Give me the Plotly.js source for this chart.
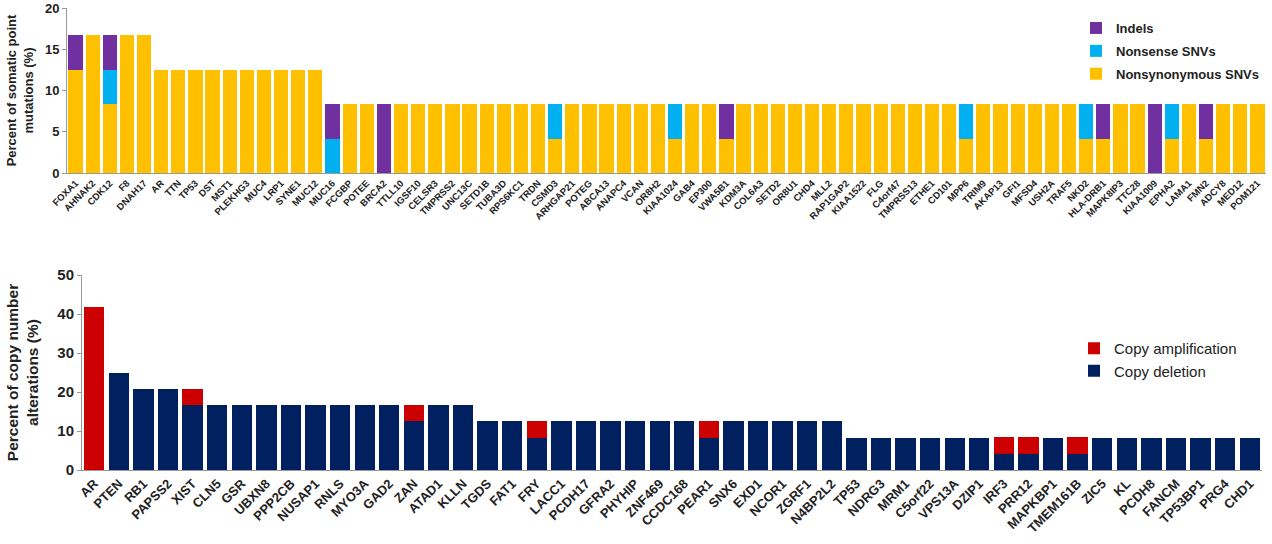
<!DOCTYPE html>
<html>
<head>
<meta charset="utf-8">
<script src="https://cdn.plot.ly/plotly-3.0.1.min.js"></script>
<style>html,body{margin:0;padding:0;background:#fff;}#chart{width:1272px;height:544px;}</style>
</head>
<body>
<div id="chart"></div>
<script>
const topGenes = ["FOXA1","AHNAK2","CDK12","F8","DNAH17","AR","TTN","TP53","DST","MST1","PLEKHG3","MUC4","LRP1","SYNE1","MUC12","MUC16","FCGBP","POTEE","BRCA2","TTLL10","IGSF10","CELSR3","TMPRSS2","UNC13C","SETD1B","TUBA3D","RPS6KC1","TRDN","CSMD3","ARHGAP21","POTEG","ABCA13","ANAPC4","VCAN","OR8H2","KIAA1024","GAB4","EP300","VWA5B1","KDM3A","COL6A3","SETD2","OR8U1","CHD4","MLL2","RAP1GAP2","KIAA1522","FLG","C4orf47","TMPRSS13","ETHE1","CD101","MPP6","TRIM9","AKAP13","GFI1","MFSD4","USH2A","TRAF5","NKD2","HLA-DRB1","MAPK8IP3","TTC28","KIAA1009","EPHA2","LAMA1","FMN2","ADCY8","MED12","POM121"];
const nonsynVals = [12.5,16.67,8.33,16.67,16.67,12.5,12.5,12.5,12.5,12.5,12.5,12.5,12.5,12.5,12.5,0,8.33,8.33,0,8.33,8.33,8.33,8.33,8.33,8.33,8.33,8.33,8.33,4.17,8.33,8.33,8.33,8.33,8.33,8.33,4.17,8.33,8.33,4.17,8.33,8.33,8.33,8.33,8.33,8.33,8.33,8.33,8.33,8.33,8.33,8.33,8.33,4.17,8.33,8.33,8.33,8.33,8.33,8.33,4.17,4.17,8.33,8.33,0,4.17,8.33,4.17,8.33,8.33,8.33];
const nonsenseVals = [0,0,4.17,0,0,0,0,0,0,0,0,0,0,0,0,4.17,0,0,0,0,0,0,0,0,0,0,0,0,4.17,0,0,0,0,0,0,4.17,0,0,0,0,0,0,0,0,0,0,0,0,0,0,0,0,4.17,0,0,0,0,0,0,4.17,0,0,0,0,4.17,0,0,0,0,0];
const indelVals = [4.17,0,4.17,0,0,0,0,0,0,0,0,0,0,0,0,4.17,0,0,8.33,0,0,0,0,0,0,0,0,0,0,0,0,0,0,0,0,0,0,0,4.17,0,0,0,0,0,0,0,0,0,0,0,0,0,0,0,0,0,0,0,0,0,4.17,0,0,8.33,0,0,4.17,0,0,0];

const cnaGenes = ["AR","PTEN","RB1","PAPSS2","XIST","CLN5","GSR","UBXN8","PPP2CB","NUSAP1","RNLS","MYO3A","GAD2","ZAN","ATAD1","KLLN","TGDS","FAT1","FRY","LACC1","PCDH17","GFRA2","PHYHIP","ZNF469","CCDC168","PEAR1","SNX6","EXD1","NCOR1","ZGRF1","N4BP2L2","TP53","NDRG3","MRM1","C5orf22","VPS13A","DZIP1","IRF3","PRR12","MAPKBP1","TMEM161B","ZIC5","KL","PCDH8","FANCM","TP53BP1","PRG4","CHD1"];
const delVals = [0,25,20.83,20.83,16.67,16.67,16.67,16.67,16.67,16.67,16.67,16.67,16.67,12.5,16.67,16.67,12.5,12.5,8.33,12.5,12.5,12.5,12.5,12.5,12.5,8.33,12.5,12.5,12.5,12.5,12.5,8.33,8.33,8.33,8.33,8.33,8.33,4.17,4.17,8.33,4.17,8.33,8.33,8.33,8.33,8.33,8.33,8.33];
const ampVals = [41.67,0,0,0,4.17,0,0,0,0,0,0,0,0,4.17,0,0,0,0,4.17,0,0,0,0,0,0,4.17,0,0,0,0,0,0,0,0,0,0,0,4.17,4.17,0,4.17,0,0,0,0,0,0,0];

const FONT = "Liberation Sans, Arial, sans-serif";
function bar(x, y, name, color, xa, ya, leg, rank) {
  return {type: "bar", x: x, y: y, name: name, marker: {color: color, line: {width: 0}},
          xaxis: xa, yaxis: ya, legend: leg, legendgroup: name, legendrank: rank, hoverinfo: "x+y+name"};
}
const data = [
  bar(topGenes, nonsynVals, "Nonsynonymous SNVs", "#FFC000", "x", "y", "legend", 3),
  bar(topGenes, nonsenseVals, "Nonsense SNVs", "#00B0F0", "x", "y", "legend", 2),
  bar(topGenes, indelVals, "Indels", "#7030A0", "x", "y", "legend", 1),
  bar(cnaGenes, delVals, "Copy deletion", "#002060", "x2", "y2", "legend2", 2),
  bar(cnaGenes, ampVals, "Copy amplification", "#CC0000", "x2", "y2", "legend2", 1)
];
const layout = {
  width: 1272, height: 544,
  margin: {l: 0, r: 0, t: 0, b: 0},
  paper_bgcolor: "#fff", plot_bgcolor: "#fff",
  barmode: "stack", bargap: 0.17,
  font: {family: FONT, color: "#222"},
  xaxis: {domain: [67/1272, 1266/1272], anchor: "y", type: "category",
          tickangle: -45, tickfont: {size: 9.5, weight: "bold", color: "#222"},
          showline: true, linecolor: "#999", linewidth: 1, ticks: "", automargin: false, fixedrange: true},
  yaxis: {domain: [1 - 173/544, 1 - 8/544], anchor: "x", range: [0, 20], dtick: 5,
          showgrid: false, zeroline: false, showline: true, linecolor: "#999", linewidth: 1,
          ticks: "outside", ticklen: 4, tickcolor: "#999",
          tickfont: {size: 13, weight: "bold", color: "#222"}, automargin: false,
          title: {text: "Percent of somatic point<br>mutations (%)", font: {size: 13, weight: "bold", color: "#222"}, standoff: 8}},
  xaxis2: {domain: [82/1272, 1262/1272], anchor: "y2", type: "category",
          tickangle: -45, tickfont: {size: 13, weight: "bold", color: "#222"},
          showline: true, linecolor: "#999", linewidth: 1, ticks: "", automargin: false, fixedrange: true},
  yaxis2: {domain: [1 - 470/544, 1 - 275/544], anchor: "x2", range: [0, 50], dtick: 10,
          showgrid: false, zeroline: false, showline: true, linecolor: "#999", linewidth: 1,
          ticks: "outside", ticklen: 4, tickcolor: "#999",
          tickfont: {size: 15, weight: "bold", color: "#222"}, automargin: false,
          title: {text: "Percent of copy number<br>alterations (%)", font: {size: 15.5, weight: "bold", color: "#222"}, standoff: 14}},
  legend: {x: 1076/1272, xanchor: "left", y: 1 - 13/544, yanchor: "top", traceorder: "grouped",
           tracegroupgap: 3, font: {size: 13, weight: "bold", color: "#222"}, bgcolor: "rgba(0,0,0,0)", itemwidth: 30},
  legend2: {x: 1074/1272, xanchor: "left", y: 1 - 332/544, yanchor: "top", traceorder: "grouped",
           tracegroupgap: 0, font: {size: 15, color: "#222"}, bgcolor: "rgba(0,0,0,0)", itemwidth: 30},
  showlegend: true
};
Plotly.newPlot("chart", data, layout, {displayModeBar: false, staticPlot: true});
</script>
</body>
</html>
